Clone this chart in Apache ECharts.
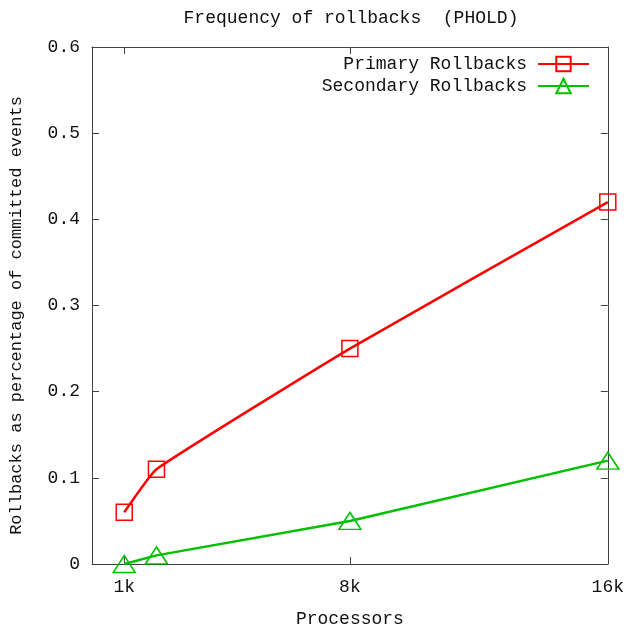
<!DOCTYPE html>
<html>
<head>
<meta charset="utf-8">
<script src="https://cdn.jsdelivr.net/npm/echarts@6/dist/echarts.min.js"></script>
<style>
html,body{margin:0;padding:0;background:#fff;}
#chart{width:627px;height:633px;}
</style>
</head>
<body>
<div id="chart"></div>
<script>
const processors = [1024, 2048, 8192, 16384];
const primaryRollbacks = [0.06, 0.11, 0.25, 0.42];
const secondaryRollbacks = [0, 0.01, 0.05, 0.12];
const xTickValues = [1024, 8192, 16384];
const xTickLabels = ['1k', '8k', '16k'];
const yMin = 0, yMax = 0.6, yStep = 0.1;

const FONT = "'Liberation Mono', 'DejaVu Sans Mono', monospace";
const RED = '#ff0000';
const GREEN = '#00c000';
const AXIS = '#404040';
const TEXT = '#111';

const chart = echarts.init(document.getElementById('chart'), null, {renderer: 'canvas'});

const xLabelMap = {};
xTickValues.forEach((v, i) => { xLabelMap[v] = xTickLabels[i]; });

const baseX = {
  type: 'value', min: 0, max: 16384,
  splitLine: {show: false},
  axisLine: {show: true, onZero: false, lineStyle: {color: AXIS, width: 1}},
  axisTick: {show: true, inside: true, length: 7, customValues: xTickValues, lineStyle: {color: AXIS}},
};
const baseY = {
  type: 'value', min: yMin, max: yMax, interval: yStep,
  splitLine: {show: false},
  axisLine: {show: true, onZero: false, lineStyle: {color: AXIS, width: 1}},
  axisTick: {show: true, inside: true, length: 7, lineStyle: {color: AXIS}},
};

chart.setOption({
  animation: false,
  backgroundColor: '#fff',
  title: {
    text: 'Frequency of rollbacks  (PHOLD)',
    left: 346, top: 4, textAlign: 'center',
    textStyle: {fontFamily: FONT, fontSize: 18, fontWeight: 'normal', color: TEXT}
  },
  grid: {left: 91, right: 17, top: 47, bottom: 67, containLabel: false},
  legend: {
    orient: 'vertical', right: 37, top: 55, align: 'right', padding: 0,
    itemWidth: 51, itemHeight: 18, itemGap: 4,
    textStyle: {fontFamily: FONT, fontSize: 18, color: TEXT, padding: [0, 6, 0, 0]},
    data: ['Primary Rollbacks', 'Secondary Rollbacks']
  },
  xAxis: [
    Object.assign({}, baseX, {
      position: 'bottom',
      name: 'Processors', nameLocation: 'middle', nameGap: 46,
      nameTextStyle: {fontFamily: FONT, fontSize: 18, color: TEXT},
      axisLabel: {
        show: true, margin: 14, customValues: xTickValues,
        fontFamily: FONT, fontSize: 18, color: TEXT,
        formatter: v => xLabelMap[v] || ''
      }
    }),
    Object.assign({}, baseX, {position: 'top', axisLabel: {show: false}})
  ],
  yAxis: [
    Object.assign({}, baseY, {
      position: 'left',
      name: 'Rollbacks as percentage of committed events', nameLocation: 'middle', nameGap: 67,
      nameTextStyle: {fontFamily: FONT, fontSize: 17, color: TEXT, padding: [0, 20, 0, 0]},
      axisLabel: {
        show: true, margin: 12, fontFamily: FONT, fontSize: 18, color: TEXT,
        formatter: v => (Math.abs(v) < 1e-9 ? '0' : v.toFixed(1))
      }
    }),
    Object.assign({}, baseY, {position: 'right', axisLabel: {show: false}})
  ],
  series: [
    {
      name: 'Primary Rollbacks', type: 'line', xAxisIndex: 0, yAxisIndex: 0,
      data: processors.map((x, i) => [x, primaryRollbacks[i]]),
      smooth: 0.12,
      symbol: 'rect', symbolSize: 16,
      lineStyle: {color: RED, width: 2.5},
      itemStyle: {color: 'rgba(0,0,0,0)', borderColor: RED, borderWidth: 1.5},
      z: 3
    },
    {
      name: 'Secondary Rollbacks', type: 'line', xAxisIndex: 0, yAxisIndex: 0,
      data: processors.map((x, i) => [x, secondaryRollbacks[i]]),
      smooth: false,
      symbol: 'triangle', symbolSize: [22, 17],
      lineStyle: {color: GREEN, width: 2.5},
      itemStyle: {color: 'rgba(0,0,0,0)', borderColor: GREEN, borderWidth: 1.5},
      z: 3
    }
  ]
});
</script>
</body>
</html>
